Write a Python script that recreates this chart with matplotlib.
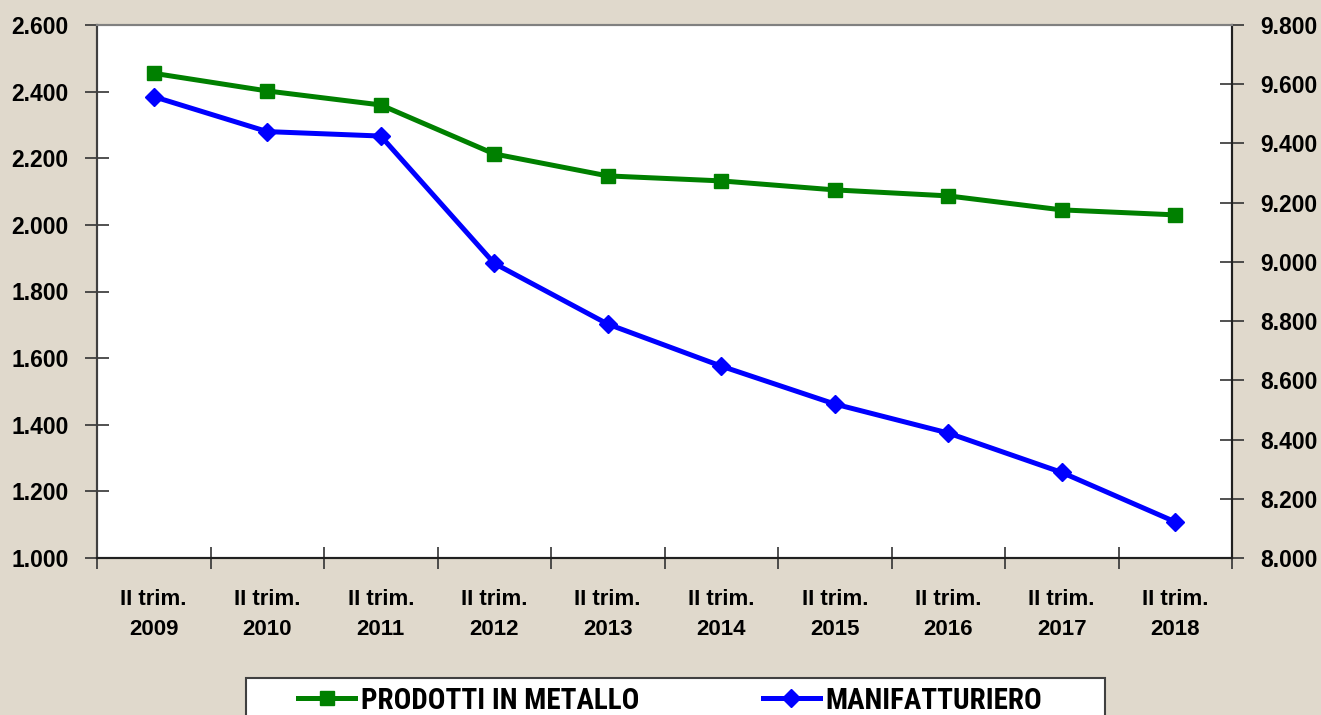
import matplotlib
matplotlib.use("Agg")
import matplotlib.pyplot as plt
from matplotlib import font_manager
from matplotlib.lines import Line2D
from matplotlib.patches import Rectangle
from matplotlib.ticker import FuncFormatter, FixedLocator

# ---- data ----
categories = ["II trim.\n2009", "II trim.\n2010", "II trim.\n2011", "II trim.\n2012",
              "II trim.\n2013", "II trim.\n2014", "II trim.\n2015", "II trim.\n2016",
              "II trim.\n2017", "II trim.\n2018"]
prodotti_metallo = [2455, 2402, 2360, 2213, 2147, 2132, 2105, 2087, 2045, 2030]
manifatturiero = [9558, 9440, 9425, 8995, 8790, 8648, 8520, 8422, 8289, 8122]
left_ticks = [1000, 1200, 1400, 1600, 1800, 2000, 2200, 2400, 2600]
right_ticks = [8000, 8200, 8400, 8600, 8800, 9000, 9200, 9400, 9600, 9800]
legend_labels = ["PRODOTTI IN METALLO", "MANIFATTURIERO"]

names = {f.name for f in font_manager.fontManager.ttflist}
base_font = "Liberation Sans" if "Liberation Sans" in names else "DejaVu Sans"
narrow_font = base_font
for cand in ["Liberation Sans Narrow", "Roboto Condensed", "Open Sans Condensed",
             "Noto Sans Condensed", "DejaVu Sans Condensed"]:
    if cand in names:
        narrow_font = cand
        break
plt.rcParams["font.family"] = [base_font, "DejaVu Sans"]

W, H = 1321, 715
fig = plt.figure(figsize=(W / 100, H / 100), dpi=100)
bg = "#E0D9CC"
fig.patch.set_facecolor(bg)

x0, x1, ytop, ybot = 97, 1232, 25, 558
ax = fig.add_axes([x0 / W, 1 - ybot / H, (x1 - x0) / W, (ybot - ytop) / H])
ax.set_facecolor("white")
ax2 = ax.twinx()

n = len(categories)
xs = list(range(n))

ax.plot(xs, prodotti_metallo, color="#008000", lw=3.6, marker="s", ms=10,
        solid_joinstyle="miter", zorder=3)
ax2.plot(xs, manifatturiero, color="#0000FF", lw=3.6, marker="D", ms=9,
         solid_joinstyle="miter", zorder=3)

ax.set_xlim(-0.5, n - 0.5)
ax.set_ylim(1000, 2600)
ax2.set_ylim(8000, 9800)

fmt = FuncFormatter(lambda v, p: f"{int(v):,}".replace(",", "."))
ax.yaxis.set_major_locator(FixedLocator(left_ticks))
ax.yaxis.set_major_formatter(fmt)
ax2.yaxis.set_major_locator(FixedLocator(right_ticks))
ax2.yaxis.set_major_formatter(fmt)

ax.set_xticks(xs)
ax.set_xticklabels(categories, fontsize=16, fontweight="bold", linespacing=1.62)
ax.set_xticks([i - 0.5 for i in range(n + 1)], minor=True)
ax.tick_params(axis="x", which="major", length=0, pad=22)
ax.tick_params(axis="x", which="minor", direction="inout", length=16, width=1.2, color="#333333")

ax.tick_params(axis="y", direction="inout", length=17, width=1.2, color="#333333",
               labelsize=16.5, pad=12)
ax2.tick_params(axis="y", direction="inout", length=17, width=1.2, color="#333333",
                labelsize=16.5, pad=12)
for lbl in ax.get_yticklabels() + ax2.get_yticklabels():
    lbl.set_fontweight("bold")

for a in (ax, ax2):
    a.spines["left"].set_color("#404040")
    a.spines["bottom"].set_color("#202020")
    a.spines["right"].set_color("#202020")
    a.spines["top"].set_color("#808080")
    for s in a.spines.values():
        s.set_linewidth(1.5)

# ---- legend box ----
lx0, lx1, ly0 = 246, 1105, 678
fig.patches.append(Rectangle((lx0 / W, 1 - (H + 10) / H), (lx1 - lx0) / W, (H + 10 - ly0) / H,
                             transform=fig.transFigure, facecolor="white",
                             edgecolor="#404040", lw=1.5, zorder=1))
hy = 1 - 698 / H
ty = 1 - 709 / H
leg_size = 21 if narrow_font != base_font else 19
for (hx0, hx1, tx), col, mk, ms, lab in [((298, 355, 361), "#008000", "s", 10, legend_labels[0]),
                                         ((763, 820, 825), "#0000FF", "D", 9, legend_labels[1])]:
    fig.add_artist(Line2D([hx0 / W, hx1 / W], [hy, hy], transform=fig.transFigure,
                          color=col, lw=3.6, zorder=2))
    fig.add_artist(Line2D([(hx0 + hx1) / 2 / W], [hy], transform=fig.transFigure,
                          color=col, marker=mk, ms=ms, zorder=2))
    fig.text(tx / W, ty, lab, fontsize=leg_size,
             fontweight="bold", family=[narrow_font, "DejaVu Sans"],
             va="baseline", ha="left", zorder=3)

fig.savefig("out.png", dpi=100, facecolor=bg)
